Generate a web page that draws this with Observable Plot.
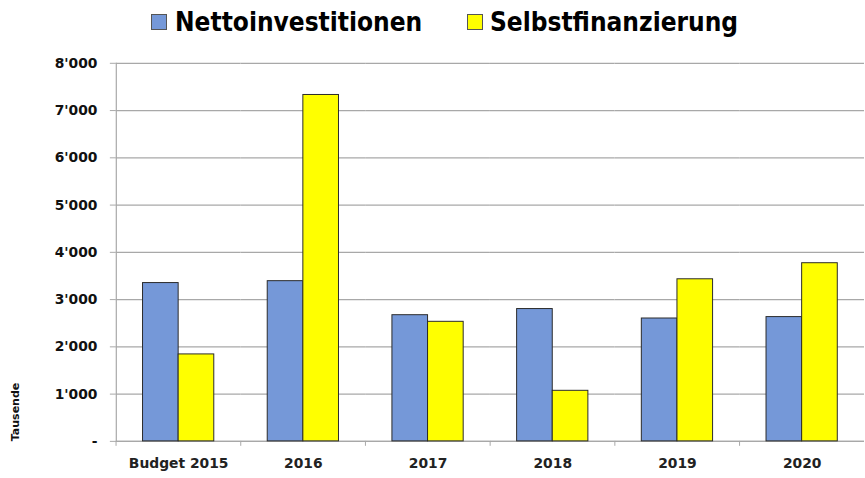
<!DOCTYPE html>
<html>
<head>
<meta charset="utf-8">
<script src="https://cdn.jsdelivr.net/npm/d3@7"></script>
<script src="https://cdn.jsdelivr.net/npm/@observablehq/plot@0.6"></script>
<style>
  html, body { margin: 0; padding: 0; background: #fff; overflow: hidden; width: 865px; height: 478px; }
  #wrap { position: relative; width: 865px; height: 478px; }
  #legend { position: absolute; left: 0; top: 0; width: 865px; height: 45px; font-family: "DejaVu Sans Condensed", "DejaVu Sans", sans-serif; font-stretch: condensed; font-weight: bold; font-size: 26px; color: #000; }
  .sw { position: absolute; top: 14px; width: 14px; height: 14px; border: 1px solid #555; }
  .lt { position: absolute; top: 6px; white-space: nowrap; line-height: 32px; }
  #chart { position: absolute; left: 0; top: 45px; }
  #ylab { position: absolute; left: 15px; top: 412px; transform: translate(-50%, -50%) rotate(-90deg); font-family: "DejaVu Sans", sans-serif; font-weight: bold; font-size: 11px; white-space: nowrap; color: #111; }
</style>
</head>
<body>
<div id="wrap">
  <div id="legend"></div>
  <div id="chart"></div>
  <div id="ylab">Tausende</div>
</div>
<script>
const categories = ["Budget 2015", "2016", "2017", "2018", "2019", "2020"];
const seriesNames = ["Nettoinvestitionen", "Selbstfinanzierung"];
const nettoinvestitionen = [3350, 3390, 2670, 2800, 2600, 2630];
const selbstfinanzierung = [1840, 7330, 2530, 1070, 3430, 3770];
const yTicks = [0, 1000, 2000, 3000, 4000, 5000, 6000, 7000, 8000];
const colors = ["#7598D8", "#FFFF00"];

const data = [];
categories.forEach((c, i) => {
  data.push({cat: c, series: seriesNames[0], value: nettoinvestitionen[i]});
  data.push({cat: c, series: seriesNames[1], value: selbstfinanzierung[i]});
});

// legend
const legend = document.getElementById("legend");
const legendPos = [{sw: 151, tx: 175}, {sw: 467, tx: 490}];
seriesNames.forEach((s, i) => {
  const sw = document.createElement("div");
  sw.className = "sw";
  sw.style.left = legendPos[i].sw + "px";
  sw.style.background = colors[i];
  legend.appendChild(sw);
  const t = document.createElement("div");
  t.className = "lt";
  t.style.left = legendPos[i].tx + "px";
  t.textContent = s;
  legend.appendChild(t);
});

const fmt = d => d === 0 ? "-" : d3.format(",")(d).replace(/,/g, "'");
const W = 874, H = 433, ML = 115, MR = 0;
const facetW = (W - ML - MR) / categories.length;

const chart = Plot.plot({
  width: W,
  height: H,
  marginLeft: ML,
  marginRight: MR,
  marginTop: 18,
  marginBottom: 33,
  style: {fontFamily: "'DejaVu Sans', sans-serif", fontWeight: "bold", fontSize: "14px", color: "#000", background: "#fff"},
  fx: {domain: categories, padding: 0, label: null},
  x: {domain: seriesNames, paddingInner: 0, paddingOuter: 0.742, axis: null},
  y: {domain: [0, 8000], label: null},
  color: {domain: seriesNames, range: colors},
  marks: [
    Plot.gridY(yTicks, {stroke: "#a8a8a8", strokeOpacity: 1, strokeWidth: 1.2}),
    Plot.ruleY([0], {stroke: "#a8a8a8", strokeWidth: 1.2}),
    Plot.frame({anchor: "left", facet: "super", stroke: "#a8a8a8", strokeWidth: 1.2}),
    Plot.axisY(yTicks, {tickSize: 6, tickPadding: 13, tickFormat: fmt, stroke: "#a8a8a8", label: null, fill: "#111", fontSize: 14}),
    Plot.axisFx({anchor: "bottom", tickSize: 5, text: null, dx: -facetW / 2, stroke: "#a8a8a8", label: null}),
    Plot.axisFx({anchor: "bottom", tickSize: 0, tickPadding: 17, label: null, fill: "#222", fontSize: 14}),
    Plot.barY(data, {fx: "cat", x: "series", y: "value", fill: "series", stroke: "#2a2a2a", strokeWidth: 1})
  ]
});
document.getElementById("chart").appendChild(chart);
</script>
</body>
</html>
